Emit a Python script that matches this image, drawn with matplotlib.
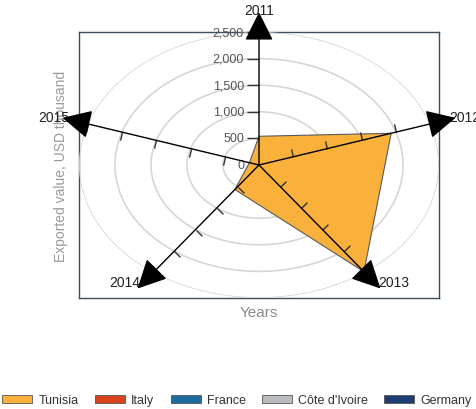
import numpy as np
import matplotlib
matplotlib.use("Agg")
import matplotlib.pyplot as plt
from matplotlib.patches import Patch
from matplotlib.path import Path
from matplotlib.markers import MarkerStyle
from matplotlib.transforms import Affine2D, offset_copy

plt.rcParams['font.family'] = ['Liberation Sans', 'DejaVu Sans']

years = ["2011", "2012", "2013", "2014", "2015"]
tunisia = [540, 1930, 2480, 570, 140]
series_names = ["Tunisia", "Italy", "France", "Côte d'Ivoire", "Germany"]
series_colors = ["#f9b13c", "#d9431c", "#1e6b9f", "#b9bdc1", "#1b3d72"]
r_ticks = [0, 500, 1000, 1500, 2000, 2500]
r_max = 2500

W, H = 477, 410
fig = plt.figure(figsize=(W / 100, H / 100), dpi=100)
left, right, top, bottom = 79, 439, 33, 299
pos = [left / W, (H - bottom) / H, (right - left) / W, (bottom - top) / H]

# box
bax = fig.add_axes(pos, zorder=0)
bax.set_xticks([]); bax.set_yticks([])
for s in bax.spines.values():
    s.set_color("#3c4d60"); s.set_linewidth(1.0)
bax.patch.set_facecolor("white")
bax.set_ylabel("Exported value, USD thousand", color="#9a9a9a", fontsize=10, labelpad=8)
bax.set_xlabel("Years", color="#8a8a8a", fontsize=11, labelpad=5)

ax = fig.add_axes(pos, projection="polar", zorder=1)
ax.set_aspect("auto")
ax.patch.set_alpha(0)
ax.set_theta_zero_location("N")
ax.set_theta_direction(-1)
ax.set_ylim(0, r_max)
ax.spines["polar"].set_visible(False)
ax.set_xticks([]); ax.set_yticks([])
ax.grid(False)

n = len(years)
thetas = np.arange(n) * 2 * np.pi / n

# rings
tt = np.linspace(0, 2 * np.pi, 400)
for r in r_ticks[1:]:
    ax.plot(tt, np.full_like(tt, r), color="#d6d6d6", lw=1.2, zorder=1)

# polygon
th_c = np.append(thetas, thetas[0])
v_c = np.append(tunisia, tunisia[0])
ax.fill(th_c, v_c, facecolor=series_colors[0], edgecolor="#5a5a5a", lw=0.8, zorder=2)

# axes lines with arrows
sx, sy = (right - left) / 2, (bottom - top) / 2
tick_path = Path([(0, 0), (0, 1)])
for i, (th, lab) in enumerate(zip(thetas, years)):
    ax.annotate("", xy=(th, 2870), xytext=(th, 0),
                arrowprops=dict(arrowstyle="-|>,head_length=0.9,head_width=0.45",
                                mutation_scale=20, color="black", lw=1.0,
                                shrinkA=0, shrinkB=0),
                annotation_clip=False, zorder=4)
    dx, dy = np.sin(th) * sx, np.cos(th) * sy
    ang = np.degrees(np.arctan2(dy, dx))
    m = MarkerStyle(tick_path, transform=Affine2D().rotate_deg(ang))
    ms = 17 if i == 0 else 12
    ax.plot([th] * 5, r_ticks[1:], ls="none", marker=m, markersize=ms,
            markeredgecolor="#333333", markeredgewidth=1.0, zorder=3, clip_on=False)

label_offsets = {"2011": (0, 0), "2012": (4, 0), "2013": (8, 6), "2014": (-8, 6), "2015": (-4, 0)}
for th, lab in zip(thetas, years):
    ox, oy = label_offsets[lab]
    tr = offset_copy(ax.transData, fig=fig, x=ox, y=oy, units="points")
    ax.text(th, 2920, lab, transform=tr, ha="center", va="center", fontsize=10,
            color="#222222", clip_on=False, zorder=3)

# radial labels
trl = offset_copy(ax.transData, fig=fig, x=-15, y=0, units="dots")
for r in r_ticks:
    ax.text(0, r, f"{r:,}", transform=trl, ha="right", va="center", fontsize=9,
            color="#555555", clip_on=False, zorder=3)

handles = [Patch(facecolor=c, edgecolor="#555555", lw=0.6) for c in series_colors]
fig.legend(handles, series_names, loc="center", bbox_to_anchor=(0.497, 9 / H), ncol=5,
           frameon=False, fontsize=9, handlelength=2.4, handleheight=0.6,
           handletextpad=0.5, columnspacing=1.3, labelcolor="#333333")

fig.savefig("out.png", dpi=100)
